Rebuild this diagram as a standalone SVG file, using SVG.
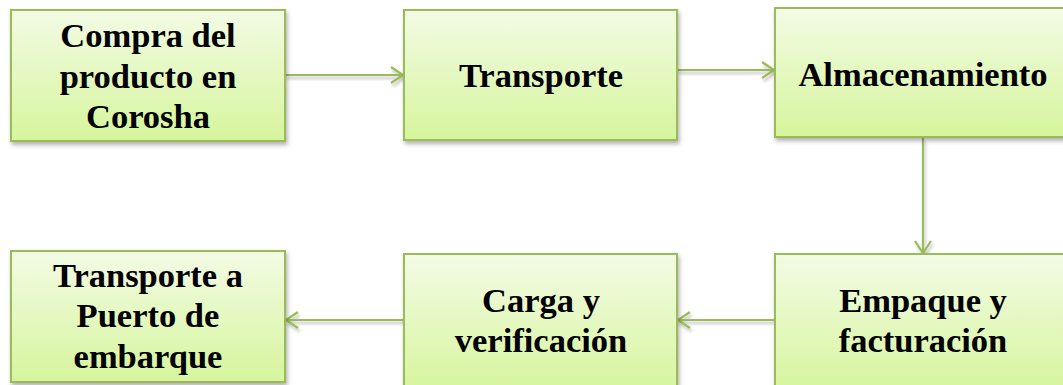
<svg xmlns="http://www.w3.org/2000/svg" width="1063" height="385" viewBox="0 0 1063 385">
<style>
.box{fill:url(#g);stroke:#9bbb59;stroke-width:2;filter:url(#sh)}
.t{font-family:"Liberation Serif","Times New Roman",serif;font-weight:bold;font-size:34.5px;fill:#000;text-anchor:middle}
.c{fill:none;stroke:#9bbb59;stroke-width:2.2;marker-end:url(#ah)}
</style>
<defs>
<linearGradient id="g" x1="0" y1="0" x2="0" y2="1">
<stop offset="0" stop-color="#f3fbe5"/>
<stop offset="1" stop-color="#d6f59c"/>
</linearGradient>
<filter id="sh" x="-10%" y="-10%" width="130%" height="140%">
<feDropShadow dx="1.5" dy="3" stdDeviation="2" flood-color="#000" flood-opacity="0.3"/>
</filter>
<filter id="shl" filterUnits="userSpaceOnUse" x="0" y="0" width="1063" height="385">
<feDropShadow dx="1.5" dy="3" stdDeviation="1.5" flood-color="#000" flood-opacity="0.25"/>
</filter>
<marker id="ah" markerUnits="userSpaceOnUse" markerWidth="16" markerHeight="20" refX="13" refY="9" orient="auto">
<path d="M1,1 L13,9 L1,17" fill="none" stroke="#9bbb59" stroke-width="2.2"/>
</marker>
</defs>
<g id="connectors" filter="url(#shl)">
<line class="c" x1="285" y1="75" x2="403" y2="75"/>
<line class="c" x1="677" y1="70" x2="774" y2="70"/>
<line class="c" x1="923" y1="138" x2="923" y2="253"/>
<line class="c" x1="774" y1="320" x2="678" y2="320"/>
<line class="c" x1="404" y1="320" x2="286" y2="320"/>
</g>
<g id="n1"><rect class="box" x="11" y="10" width="274" height="131"/>
<text class="t" x="148" y="47">Compra del</text><text class="t" x="148" y="88">producto en</text><text class="t" x="148" y="128">Corosha</text></g>
<g id="n2"><rect class="box" x="404" y="10" width="273" height="130"/>
<text class="t" x="541" y="87">Transporte</text></g>
<g id="n3"><rect class="box" x="775" y="8" width="296" height="129"/>
<text class="t" x="923" y="86">Almacenamiento</text></g>
<g id="n4"><rect class="box" x="775" y="254" width="296" height="140"/>
<text class="t" x="923" y="312">Empaque y</text><text class="t" x="923" y="352">facturación</text></g>
<g id="n5"><rect class="box" x="404" y="254" width="273" height="140"/>
<text class="t" x="541" y="312">Carga y</text><text class="t" x="541" y="352">verificación</text></g>
<g id="n6"><rect class="box" x="11" y="251" width="274" height="131"/>
<text class="t" x="148" y="287">Transporte a</text><text class="t" x="148" y="327">Puerto de</text><text class="t" x="148" y="368">embarque</text></g>
</svg>
